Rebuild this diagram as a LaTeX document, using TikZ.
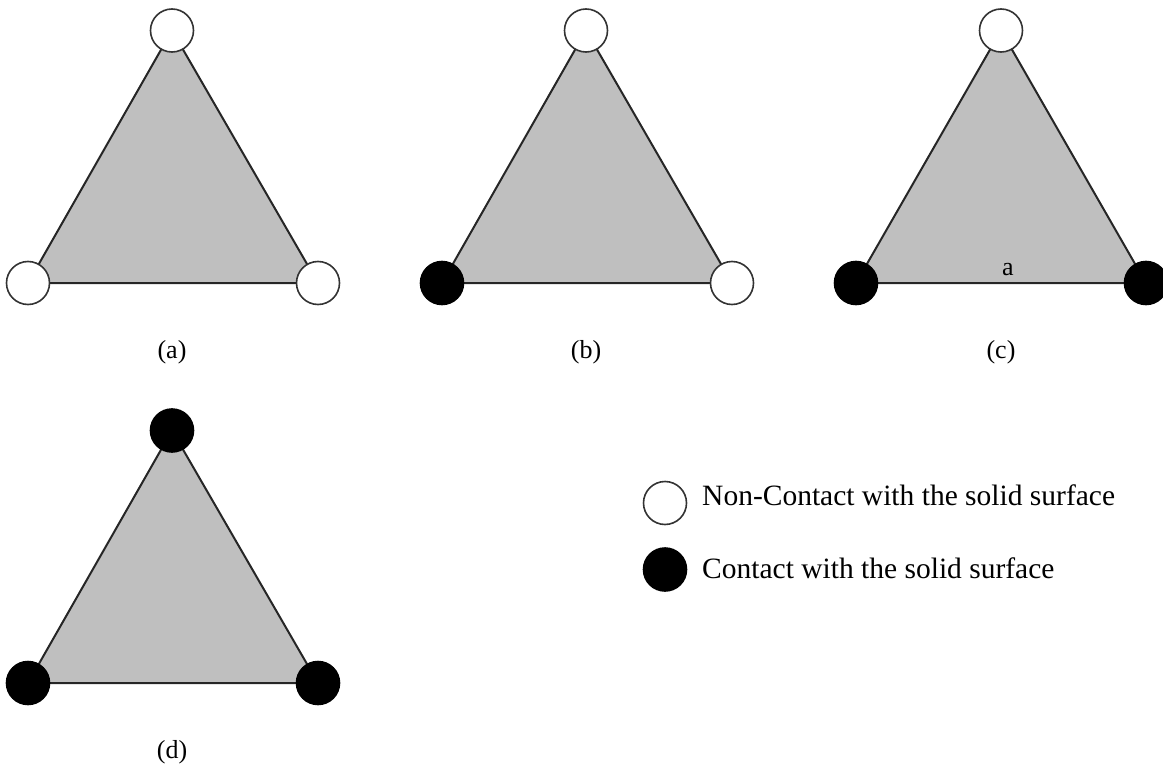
\documentclass[tikz,border=0pt]{standalone}
\usepackage{fontspec}
\setmainfont{Liberation Serif}
\tikzset{
  vfree/.style={circle,draw=black!80,fill=white,line width=1.6pt,minimum size=43pt,inner sep=0pt},
  vtouch/.style={circle,draw=black,fill=black,line width=1.6pt,minimum size=43pt,inner sep=0pt},
  plate/.style={fill=black!25,draw=black!85,line width=2pt,line join=round},
  caption/.style={font=\fontsize{26}{30}\selectfont,inner sep=1pt}
}
\begin{document}
\begin{tikzpicture}[x=1pt,y=-1pt]
\useasboundingbox (0,0) rectangle (1163,768);
% (a)
\coordinate (aT) at (172,30.5);
\coordinate (aL) at (28,283);
\coordinate (aR) at (318,283);
\draw[plate] (aT) -- (aL) -- (aR) -- cycle;
\node[vfree] (aT1) at (aT) {};
\node[vfree] (aL1) at (aL) {};
\node[vfree] (aR1) at (aR) {};
\node[caption] (capA) at (172,352) {(a)};
% (b)
\coordinate (bT) at (586,30.5);
\coordinate (bL) at (442,283);
\coordinate (bR) at (732,283);
\draw[plate] (bT) -- (bL) -- (bR) -- cycle;
\node[vfree] (bT1) at (bT) {};
\node[vtouch] (bL1) at (bL) {};
\node[vfree] (bR1) at (bR) {};
\node[caption] (capB) at (586,352) {(b)};
% (c)
\coordinate (cT) at (1001,30.5);
\coordinate (cL) at (856,283);
\coordinate (cR) at (1146,283);
\draw[plate] (cT) -- (cL) -- (cR) -- cycle;
\node[vfree] (cT1) at (cT) {};
\node[vtouch] (cL1) at (cL) {};
\node[vtouch] (cR1) at (cR) {};
\node[caption,anchor=base] (side) at (1008,275) {a};
\node[caption] (capC) at (1001,352) {(c)};
% (d)
\coordinate (dT) at (172,430.5);
\coordinate (dL) at (28,683);
\coordinate (dR) at (318,683);
\draw[plate] (dT) -- (dL) -- (dR) -- cycle;
\node[vtouch] (dT1) at (dT) {};
\node[vtouch] (dL1) at (dL) {};
\node[vtouch] (dR1) at (dR) {};
\node[caption] (capD) at (172,752) {(d)};
% legend
\node[vfree] (keyFree) at (665,503) {};
\node[vtouch] (keyTouch) at (665,569.5) {};
\node[font=\fontsize{29.5}{34}\selectfont,anchor=base west,inner sep=0pt] (txtFree) at (702,505) {Non-Contact with the solid surface};
\node[font=\fontsize{29.5}{34}\selectfont,anchor=base west,inner sep=0pt] (txtTouch) at (702,578) {Contact with the solid surface};
\end{tikzpicture}
\end{document}
